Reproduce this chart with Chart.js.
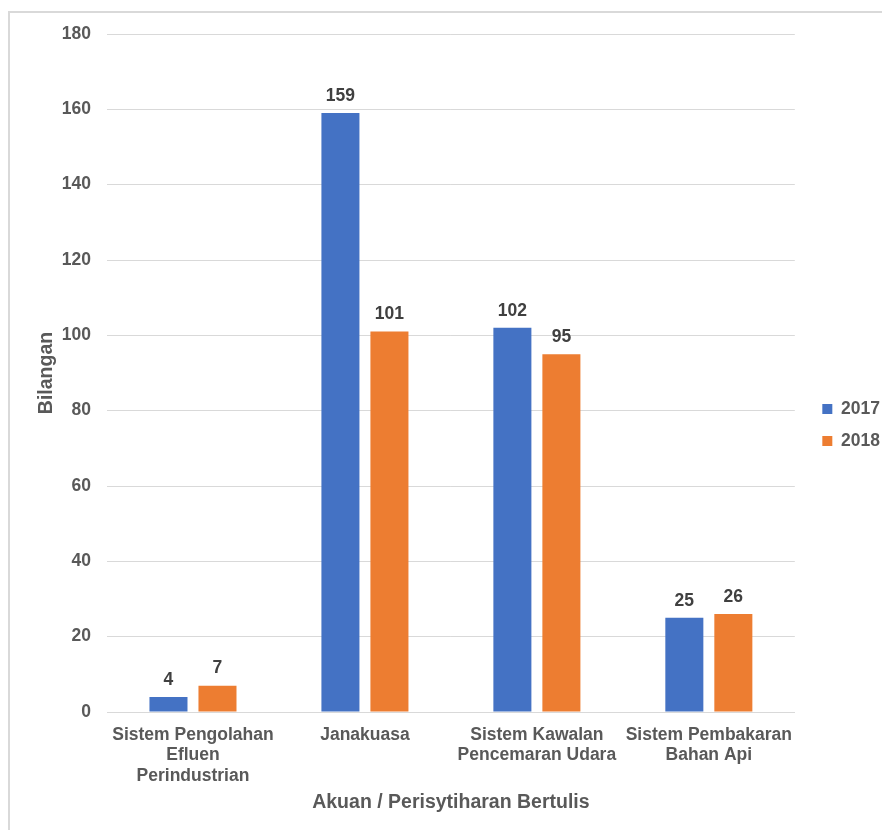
<!DOCTYPE html>
<html>
<head>
<meta charset="utf-8">
<script src="https://cdn.jsdelivr.net/npm/chart.js@4/dist/chart.umd.min.js"></script>
<style>
  html, body { margin: 0; padding: 0; background: #fff; overflow: hidden; }
  #frame { position: absolute; left: 8px; top: 11px; width: 1000px; height: 1000px;
           border-left: 2px solid #d9d9d9; border-top: 2px solid #d9d9d9; }
  #wrap { position: absolute; left: 0; top: 0; width: 882px; height: 830px; }
</style>
</head>
<body>
<div id="frame"></div>
<div id="wrap"><canvas id="chart" width="882" height="830"></canvas></div>
<script>
// Data
const categories = [
  ['Sistem Pengolahan', 'Efluen', 'Perindustrian'],
  'Janakuasa',
  ['Sistem Kawalan', 'Pencemaran Udara'],
  ['Sistem Pembakaran', 'Bahan Api'],
];
const values2017 = [4, 159, 102, 25];
const values2018 = [7, 101, 95, 26];
const yTicks = [0, 20, 40, 60, 80, 100, 120, 140, 160, 180];

const FONT = '"Liberation Sans", Arial, sans-serif';
const TEXT = '#595959';
const SIZE = 17.5;

// Label nilai di atas setiap bar
const valueLabels = {
  id: 'valueLabels',
  afterDatasetsDraw(chart) {
    const ctx = chart.ctx;
    ctx.save();
    ctx.font = `bold ${SIZE}px ${FONT}`;
    ctx.fillStyle = '#404040';
    ctx.textAlign = 'center';
    ctx.textBaseline = 'middle';
    chart.data.datasets.forEach((ds, i) => {
      chart.getDatasetMeta(i).data.forEach((bar, j) => {
        ctx.fillText(String(ds.data[j]), bar.x, bar.y - 17);
      });
    });
    ctx.restore();
  },
};

// prázdná osa jen jako mezera v layoutu
const spacer = (position, size) => ({
  position,
  min: 0,
  max: 1,
  grid: { display: false },
  border: { display: false },
  ticks: { display: false },
  afterFit: (scale) => {
    if (position === 'top') scale.height = size; else scale.width = size;
  },
});

new Chart(document.getElementById('chart'), {
  type: 'bar',
  data: {
    labels: categories,
    datasets: [
      { label: '2017', data: values2017, backgroundColor: '#4472C4' },
      { label: '2018', data: values2018, backgroundColor: '#ED7D31' },
    ],
  },
  options: {
    responsive: false,
    animation: false,
    events: [],
    categoryPercentage: 0.57,
    barPercentage: 0.776,
    layout: { padding: { left: 33, top: 20, right: -8, bottom: 0 } },
    scales: {
      x: {
        grid: { display: false },
        border: { color: '#d9d9d9', width: 1 },
        ticks: {
          color: TEXT,
          font: { family: FONT, size: SIZE, weight: 'bold', lineHeight: 1.16 },
          padding: 5,
          maxRotation: 0,
          autoSkip: false,
        },
        title: {
          display: true,
          text: 'Akuan / Perisytiharan Bertulis',
          color: TEXT,
          font: { family: FONT, size: 19.5, weight: 'bold' },
          padding: { top: 0, bottom: 16 },
        },
        afterFit: (scale) => { scale.height = 118; },
      },
      y: {
        min: 0,
        max: 180,
        afterBuildTicks: (scale) => { scale.ticks = yTicks.map((v) => ({ value: v })); },
        grid: { color: '#d9d9d9', drawTicks: false },
        border: { display: false },
        ticks: {
          color: TEXT,
          font: { family: FONT, size: SIZE, weight: 'bold' },
          padding: 16,
        },
        title: {
          display: true,
          text: 'Bilangan',
          color: TEXT,
          font: { family: FONT, size: 19.5, weight: 'bold' },
          padding: 2,
        },
        afterFit: (scale) => { scale.width = 107 - 33; },
      },
      gapRight: spacer('right', 13),
      gapTop: spacer('top', 14),
    },
    plugins: {
      legend: {
        position: 'right',
        labels: {
          color: TEXT,
          boxWidth: 10,
          boxHeight: 10,
          padding: 14.5,
          font: { family: FONT, size: SIZE, weight: 'bold' },
        },
      },
      tooltip: { enabled: false },
    },
  },
  plugins: [valueLabels],
});
</script>
</body>
</html>
